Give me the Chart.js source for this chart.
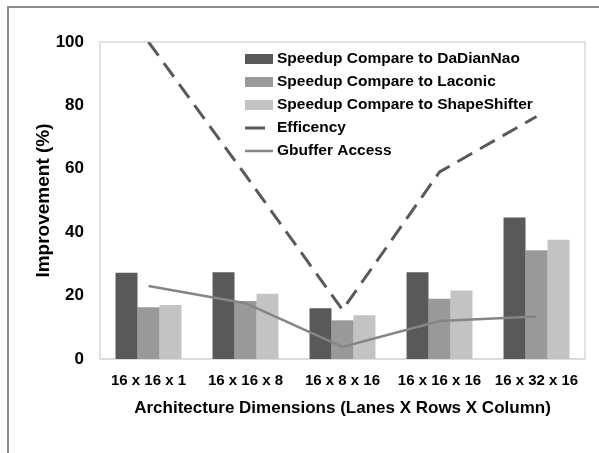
<!DOCTYPE html>
<html>
<head>
<meta charset="utf-8">
<script src="https://cdn.jsdelivr.net/npm/chart.js@4.4.1/dist/chart.umd.min.js"></script>
<style>
  html, body { margin: 0; padding: 0; background: #fff; }
  #wrap { position: relative; width: 599px; height: 453px; }
  #frame { position: absolute; left: 7px; top: 6px; right: 0; bottom: 0; border-top: 2px solid #8c8c8c; border-left: 2px solid #8c8c8c; }
  canvas { position: absolute; left: 0; top: 0; }
</style>
</head>
<body>
<div id="wrap">
  <div id="frame"></div>
  <canvas id="chartArch" width="599" height="453"></canvas>
</div>
<script>
const categories = ["16 x 16 x 1", "16 x 16 x 8", "16 x 8 x 16", "16 x 16 x 16", "16 x 32 x 16"];
const vsDaDianNao = [27.2, 27.4, 16.0, 27.4, 44.6];
const vsLaconic = [16.3, 18.3, 12.2, 19.0, 34.3];
const vsShapeShifter = [17.0, 20.6, 13.8, 21.6, 37.6];
const efficency = [100, 58, 15.5, 59, 76.5];
const gbufferAccess = [23, 17.6, 3.8, 12, 13.4];
const yTicks = [0, 20, 40, 60, 80, 100];

const FONT = "'Liberation Sans', Arial, sans-serif";

// frame round the plot area
const plotFrame = {
  id: "plotFrame",
  beforeDraw(chart) {
    const { ctx, chartArea: a } = chart;
    ctx.save();
    ctx.strokeStyle = "#d9d9d9";
    ctx.lineWidth = 1.5;
    ctx.strokeRect(a.left, a.top, a.right - a.left, a.bottom - a.top);
    ctx.restore();
  },
};

// legend drawn inside the plot area, upper right
const innerLegend = {
  id: "innerLegend",
  afterDraw(chart) {
    const { ctx, chartArea: a } = chart;
    const x0 = a.left + 145;
    let y = a.top + 17;
    ctx.save();
    ctx.font = "bold 15.5px " + FONT;
    ctx.textBaseline = "middle";
    chart.data.datasets.forEach((ds) => {
      if (ds.type === "line") {
        ctx.strokeStyle = ds.borderColor;
        ctx.lineWidth = ds.borderWidth;
        ctx.beginPath();
        ctx.moveTo(x0, y);
        ctx.lineTo(x0 + (ds.borderDash ? 20 : 28), y);
        ctx.stroke();
      } else {
        ctx.fillStyle = ds.backgroundColor;
        ctx.fillRect(x0, y - 5, 28, 10);
      }
      ctx.fillStyle = "#000";
      ctx.fillText(ds.label, x0 + 32, y);
      y += 23;
    });
    ctx.restore();
  },
};

document.addEventListener("DOMContentLoaded", () => {
  new Chart(document.querySelector("#chartArch"), {
    data: {
      labels: categories,
      datasets: [
        { type: "bar", label: "Speedup Compare to DaDianNao", data: vsDaDianNao, backgroundColor: "#595959", order: 2 },
        { type: "bar", label: "Speedup Compare to Laconic", data: vsLaconic, backgroundColor: "#999999", order: 2 },
        { type: "bar", label: "Speedup Compare to ShapeShifter", data: vsShapeShifter, backgroundColor: "#c3c3c3", order: 2 },
        {
          type: "line", label: "Efficency", data: efficency,
          borderColor: "#595959", borderWidth: 3, borderDash: [17, 9],
          pointRadius: 0, tension: 0, fill: false, order: 1,
        },
        {
          type: "line", label: "Gbuffer Access", data: gbufferAccess,
          borderColor: "#858585", borderWidth: 2.5,
          pointRadius: 0, tension: 0, fill: false, order: 0,
        },
      ],
    },
    options: {
      responsive: false,
      animation: false,
      layout: { padding: { left: 20, right: 14, top: 42, bottom: 34 } },
      datasets: {
        bar: { categoryPercentage: 0.68, barPercentage: 1.0 },
      },
      scales: {
        x: {
          grid: { display: false },
          border: { display: true, color: "#d9d9d9", width: 1.5 },
          ticks: { color: "#000", font: { family: FONT, size: 15, weight: "bold" }, padding: 5, maxRotation: 0, autoSkip: false },
          title: {
            display: true,
            text: "Architecture Dimensions (Lanes X Rows X Column)",
            color: "#000",
            font: { family: FONT, size: 17, weight: "bold" },
            padding: { top: 9, bottom: 0 },
          },
          afterFit(scale) { scale.height = 60; },
        },
        y: {
          min: 0,
          max: 100,
          afterBuildTicks(scale) { scale.ticks = yTicks.map((v) => ({ value: v })); },
          grid: { display: false, drawTicks: false },
          border: { display: false },
          ticks: { color: "#000", font: { family: FONT, size: 17, weight: "bold" }, padding: 16 },
          title: {
            display: true,
            text: "Improvement (%)",
            color: "#000",
            font: { family: FONT, size: 19, weight: "bold" },
            padding: { top: 12, bottom: 0 },
          },
          afterFit(scale) { scale.width = 80; },
        },
      },
      plugins: {
        legend: { display: false },
        tooltip: { enabled: false },
      },
    },
    plugins: [plotFrame, innerLegend],
  });
});
</script>
</body>
</html>
